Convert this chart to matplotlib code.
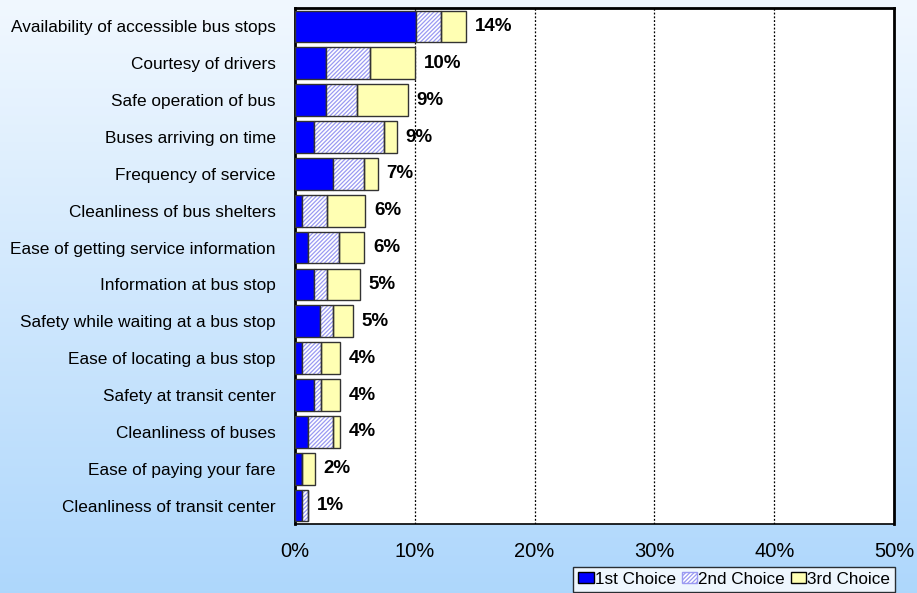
import numpy as np
import matplotlib
matplotlib.use("Agg")
import matplotlib.pyplot as plt
from matplotlib.patches import Patch

plt.rcParams['font.family'] = ['Liberation Sans', 'DejaVu Sans']
plt.rcParams['hatch.linewidth'] = 0.9

categories = [
    "Availability of accessible bus stops",
    "Courtesy of drivers",
    "Safe operation of bus",
    "Buses arriving on time",
    "Frequency of service",
    "Cleanliness of bus shelters",
    "Ease of getting service information",
    "Information at bus stop",
    "Safety while waiting at a bus stop",
    "Ease of locating a bus stop",
    "Safety at transit center",
    "Cleanliness of buses",
    "Ease of paying your fare",
    "Cleanliness of transit center",
]
first_choice = [10.1, 2.6, 2.6, 1.6, 3.2, 0.55, 1.1, 1.6, 2.1, 0.55, 1.6, 1.1, 0.55, 0.55]
second_choice = [2.1, 3.7, 2.6, 5.8, 2.6, 2.1, 2.6, 1.1, 1.1, 1.6, 0.55, 2.1, 0.0, 0.5]
third_choice = [2.1, 3.7, 4.2, 1.1, 1.1, 3.2, 2.1, 2.7, 1.6, 1.6, 1.6, 0.55, 1.1, 0.0]
total_labels = ["14%", "10%", "9%", "9%", "7%", "6%", "6%", "5%", "5%", "4%", "4%", "4%", "2%", "1%"]
series_names = ["1st Choice", "2nd Choice", "3rd Choice"]
x_ticks = [0, 10, 20, 30, 40, 50]

W, H, DPI = 917, 593, 100
fig = plt.figure(figsize=(W / DPI, H / DPI), dpi=DPI)

# vertical gradient backdrop
bg = fig.add_axes([0, 0, 1, 1], zorder=-10)
top = np.array([0.945, 0.972, 0.998])
bot = np.array([0.682, 0.843, 0.988])
t = np.linspace(0, 1, 256)[:, None]
grad = top[None, :] * (1 - t) + bot[None, :] * t
bg.imshow(grad[:, None, :], aspect='auto', extent=[0, 1, 0, 1], origin='upper')
bg.set_axis_off()

ax = fig.add_axes([295 / W, 1 - 524 / H, 599 / W, 516 / H])
ax.set_facecolor('white')

y = np.arange(len(categories))
first = np.array(first_choice)
second = np.array(second_choice)
third = np.array(third_choice)
h = 0.86
edge = '#333333'
hatch_col = '#9a9af2'
hatch_pat = '////////'

ax.barh(y, first, height=h, color='#0000ff', edgecolor=edge, linewidth=1.0, zorder=3)
# hatched second segment: hatch lines in light violet, outline drawn separately
ax.barh(y, second, left=first, height=h, color='white', edgecolor=hatch_col,
        hatch=hatch_pat, linewidth=0, zorder=3)
ax.barh(y, second, left=first, height=h, fill=False, edgecolor=edge, linewidth=1.0, zorder=4)
ax.barh(y, third, left=first + second, height=h, color='#ffffb3', edgecolor=edge,
        linewidth=1.0, zorder=3)

totals = first + second + third
for yi, tot, lab in zip(y, totals, total_labels):
    ax.text(tot + 0.75, yi, lab, va='center', ha='left', fontsize=13.5,
            fontweight='bold', color='black', zorder=5)

ax.set_xlim(0, 50)
ax.set_ylim(len(categories) - 0.5, -0.5)
ax.set_xticks(x_ticks)
ax.set_xticklabels([f"{v}%" for v in x_ticks], fontsize=14.5)
ax.set_yticks(y)
ax.set_yticklabels(categories, fontsize=12.4)
ax.tick_params(axis='y', length=0, pad=14)
ax.tick_params(axis='x', length=0, pad=13)

for v in x_ticks[1:-1]:
    ax.axvline(v, color='black', linewidth=0.9, linestyle=(0, (1.5, 1.5)), zorder=2)

for side in ['top', 'right', 'left']:
    ax.spines[side].set_linewidth(2.0)
    ax.spines[side].set_color('black')
ax.spines['bottom'].set_linewidth(1.2)

handles = [
    Patch(facecolor='#0000ff', edgecolor='black', linewidth=1.0),
    Patch(facecolor='white', edgecolor=hatch_col, hatch=hatch_pat, linewidth=1.0),
    Patch(facecolor='#ffffb3', edgecolor='black', linewidth=1.0),
]
leg = fig.legend(handles, series_names, loc='lower right',
                 bbox_to_anchor=(895 / W, 1 - 592 / H), ncol=3, fontsize=12.3,
                 frameon=True, fancybox=False, handlelength=0.9, handleheight=0.6,
                 handletextpad=0.05, columnspacing=0.35, borderpad=0.3,
                 borderaxespad=0.0)
leg.get_frame().set_edgecolor('black')
leg.get_frame().set_linewidth(1.0)
leg.get_frame().set_facecolor('white')

fig.savefig('out.png', dpi=DPI)
